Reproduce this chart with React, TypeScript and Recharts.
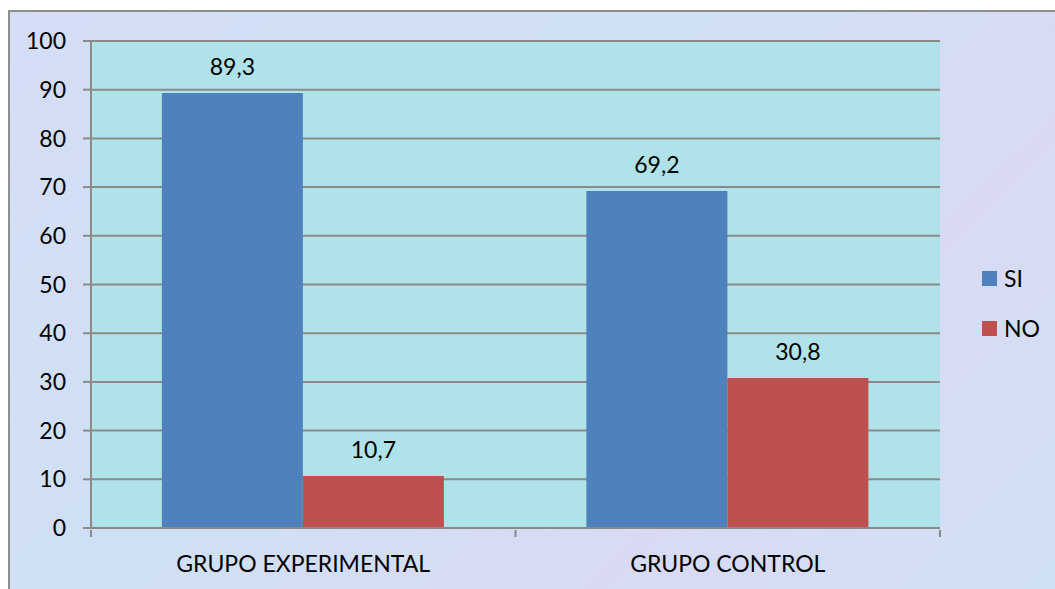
import React from "react";
import { BarChart, Bar, XAxis, YAxis, CartesianGrid, LabelList } from "recharts";

const categories = ["GRUPO EXPERIMENTAL", "GRUPO CONTROL"];
const siValues = [89.3, 69.2];
const noValues = [10.7, 30.8];
const yTicks = [0, 10, 20, 30, 40, 50, 60, 70, 80, 90, 100];
const seriesNames = ["SI", "NO"];
const seriesColors = ["#4f81bd", "#c0504d"];

const data = categories.map((c, i) => ({ name: c, SI: siValues[i], NO: noValues[i] }));

const FONT = "Lato, 'Open Sans', sans-serif";
const FS = 23;
const fmt = (v: any) => String(v).replace(".", ",");

const XTick = (props: any) => {
  const { x, y, payload, index, visibleTicksCount } = props;
  const half = payload && payload.offset ? payload.offset : 0;
  const left = x - half;
  const right = x + half;
  const last = index === (visibleTicksCount ?? categories.length) - 1;
  return (
    <g>
      <line x1={left} y1={y - 6} x2={left} y2={y + 1} stroke="#8a8a8a" strokeWidth={2} />
      {last && <line x1={right} y1={y - 6} x2={right} y2={y + 1} stroke="#8a8a8a" strokeWidth={2} />}
      <text x={x} y={y + 18} textAnchor="middle" dominantBaseline="hanging" fontFamily={FONT} fontSize={FS} fill="#000">
        {payload.value}
      </text>
    </g>
  );
};

const LegendBox = () => (
  <div style={{ position: "absolute", left: 982, top: 265, fontFamily: FONT, fontSize: FS, color: "#000" }}>
    {seriesNames.map((n, i) => (
      <div key={n} style={{ display: "flex", alignItems: "center", height: 26, marginBottom: i === 0 ? 24 : 0 }}>
        <span style={{ display: "inline-block", width: 15, height: 15, background: seriesColors[i], marginRight: 7 }} />
        <span>{n}</span>
      </div>
    ))}
  </div>
);

export default function App() {
  return (
    <div style={{ position: "absolute", left: 0, top: 0, width: 1055, height: 589, background: "#ffffff", overflow: "hidden" }}>
      <div
        style={{
          position: "absolute",
          left: 8,
          top: 10,
          width: 1060,
          height: 600,
          borderLeft: "2px solid #8e8e8e",
          borderTop: "2px solid #8e8e8e",
          background: "linear-gradient(135deg, #d4ddf5 0%, #cfe0f4 40%, #d8daf3 70%, #d0e2f5 100%)",
        }}
      />
      <div style={{ position: "absolute", left: 0, top: 0 }}>
        <BarChart
          width={1055}
          height={589}
          data={data}
          margin={{ top: 41, right: 115, bottom: 0, left: 0 }}
          barCategoryGap="16.7%"
          barGap={0}
        >
          <CartesianGrid vertical={false} stroke="#8a8a8a" strokeWidth={2} fill="#b0e2e9" fillOpacity={1} />
          <XAxis
            dataKey="name"
            height={61}
            axisLine={{ stroke: "#8a8a8a", strokeWidth: 2 }}
            tickLine={false}
            tick={<XTick />}
            interval={0}
          />
          <YAxis
            width={91}
            domain={[0, 100]}
            ticks={yTicks}
            interval={0}
            axisLine={{ stroke: "#8a8a8a", strokeWidth: 2 }}
            tickLine={{ stroke: "#8a8a8a", strokeWidth: 2 }}
            tickSize={8}
            tickMargin={17}
            tick={{ fontFamily: FONT, fontSize: FS, fill: "#000" }}
          />
          {seriesNames.map((n, i) => (
            <Bar key={n} dataKey={n} fill={seriesColors[i]} isAnimationActive={false}>
              <LabelList
                dataKey={n}
                position="top"
                offset={18}
                formatter={fmt}
                style={{ fontFamily: FONT, fontSize: FS, fill: "#000" }}
              />
            </Bar>
          ))}
        </BarChart>
      </div>
      <LegendBox />
    </div>
  );
}
